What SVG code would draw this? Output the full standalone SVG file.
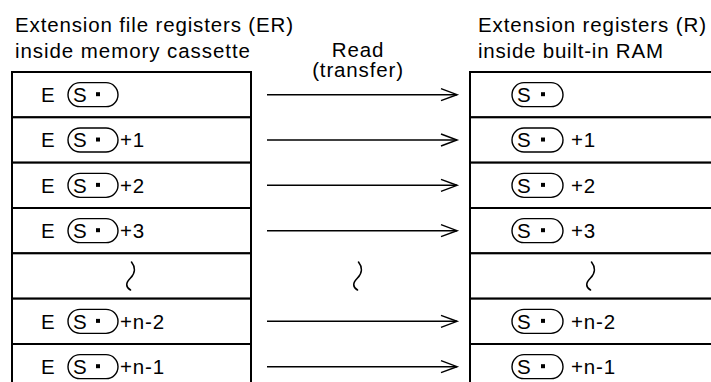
<svg xmlns="http://www.w3.org/2000/svg" width="711" height="382" viewBox="0 0 711 382">
<defs>
<style>
.t{font-family:"Liberation Sans",Arial,sans-serif;font-size:20.5px;letter-spacing:0.85px;fill:#000}
.h{letter-spacing:0}
.cell{fill:#fff;stroke:#000;stroke-width:2}
.ov{fill:none;stroke:#000;stroke-width:1.4}
.dot{fill:#000}
.arr{fill:none;stroke:#000;stroke-width:1.5}
.sq{fill:none;stroke:#000;stroke-width:1.6;stroke-linecap:round}
</style>
<marker id="ah" markerUnits="userSpaceOnUse" markerWidth="20" markerHeight="16" refX="0" refY="0" viewBox="-18 -8 20 16" orient="auto" overflow="visible">
<path d="M-16,-6 L0,0 L-16,6" fill="none" stroke="#000" stroke-width="1.5"/>
</marker>
<path id="squig" d="M1.5,-14 C5.5,-9 5.5,-3 0.5,2 C-4.5,7 -4.5,11 0.5,14"/>
</defs>
<rect width="711" height="382" fill="#fff"/>

<g id="heading-left">
<text class="t h" x="15" y="32" textLength="278" lengthAdjust="spacing">Extension file registers (ER)</text>
<text class="t h" x="15" y="57.5" textLength="235" lengthAdjust="spacing">inside memory cassette</text>
</g>
<g id="heading-right">
<text class="t h" x="478" y="32" textLength="228" lengthAdjust="spacing">Extension registers (R)</text>
<text class="t h" x="478" y="57.5" textLength="185" lengthAdjust="spacing">inside built-in RAM</text>
</g>

<g id="er-0" transform="translate(0,72)">
<rect class="cell" x="12" y="0" width="239" height="45.33"/>
<text class="t" x="41" y="30">E</text>
<rect class="ov" x="68" y="10.67" width="50" height="24" rx="12"/>
<text class="t" x="73" y="30">S</text>
<rect class="dot" x="96" y="20.2" width="4" height="4"/>
</g>
<g id="er-1" transform="translate(0,117.33)">
<rect class="cell" x="12" y="0" width="239" height="45.33"/>
<text class="t" x="41" y="30">E</text>
<rect class="ov" x="68" y="10.67" width="50" height="24" rx="12"/>
<text class="t" x="73" y="30">S</text>
<rect class="dot" x="96" y="20.2" width="4" height="4"/>
<text class="t" x="120" y="30">+1</text>
</g>
<g id="er-2" transform="translate(0,162.67)">
<rect class="cell" x="12" y="0" width="239" height="45.33"/>
<text class="t" x="41" y="30">E</text>
<rect class="ov" x="68" y="10.67" width="50" height="24" rx="12"/>
<text class="t" x="73" y="30">S</text>
<rect class="dot" x="96" y="20.2" width="4" height="4"/>
<text class="t" x="120" y="30">+2</text>
</g>
<g id="er-3" transform="translate(0,208)">
<rect class="cell" x="12" y="0" width="239" height="45.33"/>
<text class="t" x="41" y="30">E</text>
<rect class="ov" x="68" y="10.67" width="50" height="24" rx="12"/>
<text class="t" x="73" y="30">S</text>
<rect class="dot" x="96" y="20.2" width="4" height="4"/>
<text class="t" x="120" y="30">+3</text>
</g>
<g id="er-gap" transform="translate(0,253.33)">
<rect class="cell" x="12" y="0" width="239" height="45.33"/>
<use href="#squig" class="sq" x="130" y="22.67"/>
</g>
<g id="er-n2" transform="translate(0,298.67)">
<rect class="cell" x="12" y="0" width="239" height="45.33"/>
<text class="t" x="41" y="30">E</text>
<rect class="ov" x="68" y="10.67" width="50" height="24" rx="12"/>
<text class="t" x="73" y="30">S</text>
<rect class="dot" x="96" y="20.2" width="4" height="4"/>
<text class="t" x="120" y="30">+n-2</text>
</g>
<g id="er-n1" transform="translate(0,344)">
<rect class="cell" x="12" y="0" width="239" height="60"/>
<text class="t" x="41" y="30">E</text>
<rect class="ov" x="68" y="10.67" width="50" height="24" rx="12"/>
<text class="t" x="73" y="30">S</text>
<rect class="dot" x="96" y="20.2" width="4" height="4"/>
<text class="t" x="120" y="30">+n-1</text>
</g>

<g id="r-0" transform="translate(0,72)">
<rect class="cell" x="470" y="0" width="250" height="45.33"/>
<rect class="ov" x="512" y="10.67" width="51" height="24" rx="12"/>
<text class="t" x="517" y="30">S</text>
<rect class="dot" x="541" y="20.2" width="4" height="4"/>
</g>
<g id="r-1" transform="translate(0,117.33)">
<rect class="cell" x="470" y="0" width="250" height="45.33"/>
<rect class="ov" x="512" y="10.67" width="51" height="24" rx="12"/>
<text class="t" x="517" y="30">S</text>
<rect class="dot" x="541" y="20.2" width="4" height="4"/>
<text class="t" x="571" y="30">+1</text>
</g>
<g id="r-2" transform="translate(0,162.67)">
<rect class="cell" x="470" y="0" width="250" height="45.33"/>
<rect class="ov" x="512" y="10.67" width="51" height="24" rx="12"/>
<text class="t" x="517" y="30">S</text>
<rect class="dot" x="541" y="20.2" width="4" height="4"/>
<text class="t" x="571" y="30">+2</text>
</g>
<g id="r-3" transform="translate(0,208)">
<rect class="cell" x="470" y="0" width="250" height="45.33"/>
<rect class="ov" x="512" y="10.67" width="51" height="24" rx="12"/>
<text class="t" x="517" y="30">S</text>
<rect class="dot" x="541" y="20.2" width="4" height="4"/>
<text class="t" x="571" y="30">+3</text>
</g>
<g id="r-gap" transform="translate(0,253.33)">
<rect class="cell" x="470" y="0" width="250" height="45.33"/>
<use href="#squig" class="sq" x="590" y="22.67"/>
</g>
<g id="r-n2" transform="translate(0,298.67)">
<rect class="cell" x="470" y="0" width="250" height="45.33"/>
<rect class="ov" x="512" y="10.67" width="51" height="24" rx="12"/>
<text class="t" x="517" y="30">S</text>
<rect class="dot" x="541" y="20.2" width="4" height="4"/>
<text class="t" x="571" y="30">+n-2</text>
</g>
<g id="r-n1" transform="translate(0,344)">
<rect class="cell" x="470" y="0" width="250" height="60"/>
<rect class="ov" x="512" y="10.67" width="51" height="24" rx="12"/>
<text class="t" x="517" y="30">S</text>
<rect class="dot" x="541" y="20.2" width="4" height="4"/>
<text class="t" x="571" y="30">+n-1</text>
</g>

<g id="connectors">
<text class="t" x="358" y="56.5" text-anchor="middle">Read</text>
<text class="t" x="358" y="76.5" text-anchor="middle">(transfer)</text>
<path class="arr" d="M267,94.67 H457" marker-end="url(#ah)"/>
<path class="arr" d="M267,140 H457" marker-end="url(#ah)"/>
<path class="arr" d="M267,185.33 H457" marker-end="url(#ah)"/>
<path class="arr" d="M267,230.67 H457" marker-end="url(#ah)"/>
<use href="#squig" class="sq" x="357" y="276"/>
<path class="arr" d="M267,321.33 H457" marker-end="url(#ah)"/>
<path class="arr" d="M267,366.67 H457" marker-end="url(#ah)"/>
</g>
</svg>
